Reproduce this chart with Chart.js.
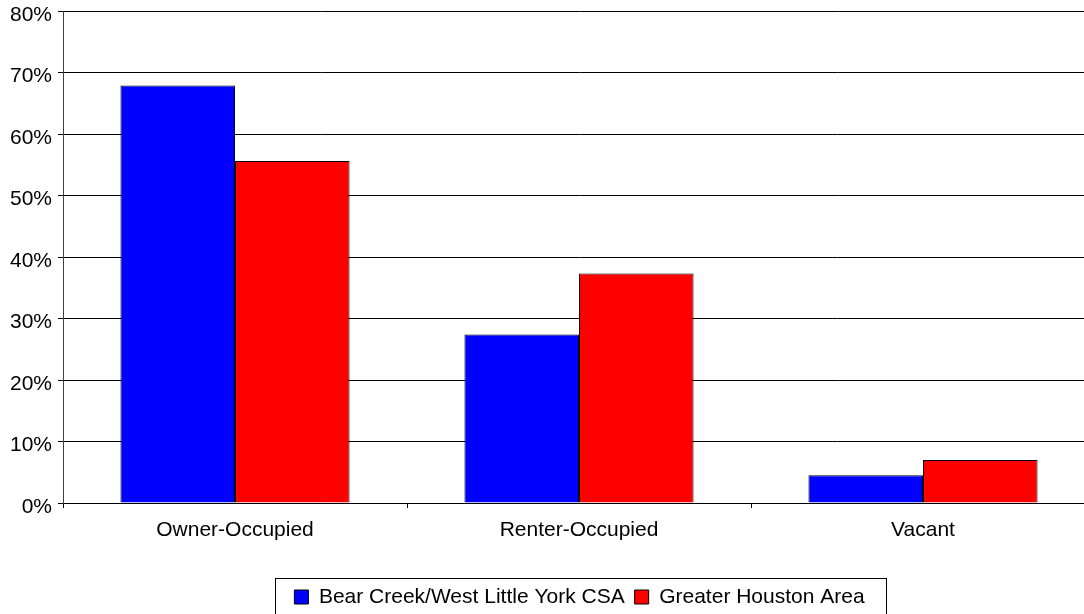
<!DOCTYPE html>
<html>
<head>
<meta charset="utf-8">
<script src="https://cdn.jsdelivr.net/npm/chart.js@4/dist/chart.umd.min.js"></script>
<style>
  html, body { margin: 0; padding: 0; background: #fff; overflow: hidden; }
  #wrap { position: relative; width: 1100px; height: 630px; }
</style>
</head>
<body>
<div id="wrap"><canvas id="housingChart"></canvas></div>
<script>
// Housing occupancy shares (percent)
const categories = ['Owner-Occupied', 'Renter-Occupied', 'Vacant'];
const seriesNames = ['Bear Creek/West Little York CSA', 'Greater Houston Area'];
const bearCreek = [67.9, 27.4, 4.5];
const houston = [55.6, 37.3, 7.0];
const yTicks = [0, 10, 20, 30, 40, 50, 60, 70, 80];

const FONT = "'Liberation Sans', Arial, sans-serif";

// Legend is centred on the visible page, not on the (wider) canvas
const legendShift = {
    id: 'legendShift',
    afterLayout(chart) {
        chart.legend.left += 32;
        chart.legend.right += 32;
    }
};

// Draws the rectangle around the legend items, like the Excel legend frame
const legendFrame = {
    id: 'legendFrame',
    afterDraw(chart) {
        const boxes = chart.legend.legendHitBoxes;
        if (!boxes || !boxes.length) return;
        const first = boxes[0];
        const last = boxes[boxes.length - 1];
        const ctx = chart.ctx;
        const left = first.left - 19;
        const right = last.left + last.width + 22;
        const top = first.top - 9;
        ctx.save();
        ctx.strokeStyle = '#000';
        ctx.lineWidth = 1;
        ctx.strokeRect(Math.round(left) + 0.5, Math.round(top) + 0.5, Math.round(right - left), 60);
        ctx.restore();
    }
};

const ctx = document.getElementById('housingChart').getContext('2d');
new Chart(ctx, {
    type: 'bar',
    data: {
        labels: categories,
        datasets: [
            {
                label: seriesNames[0],
                data: bearCreek,
                backgroundColor: '#0000ff',
                borderColor: '#000',
                borderWidth: 1,
                categoryPercentage: 0.666,
                barPercentage: 1
            },
            {
                label: seriesNames[1],
                data: houston,
                backgroundColor: '#ff0000',
                borderColor: '#000',
                borderWidth: 1,
                categoryPercentage: 0.666,
                barPercentage: 1
            }
        ]
    },
    options: {
        responsive: true,
        maintainAspectRatio: false,
        animation: false,
        layout: {
            padding: { left: 0, right: 5, top: 11, bottom: 12.5 }
        },
        plugins: {
            legend: {
                position: 'bottom',
                labels: {
                    color: '#000',
                    font: { family: FONT, size: 21 },
                    boxWidth: 14,
                    boxHeight: 14,
                    padding: 10,
                    useBorderRadius: false
                }
            },
            tooltip: { enabled: false }
        },
        scales: {
            x: {
                afterFit: (axis) => { axis.height = 73.5; },
                grid: {
                    display: true,
                    drawOnChartArea: false,
                    drawTicks: true,
                    tickLength: 5,
                    tickColor: '#000',
                    offset: true
                },
                border: { display: true, color: '#000', width: 1 },
                ticks: {
                    color: '#000',
                    font: { family: FONT, size: 21 },
                    padding: 10,
                    maxRotation: 0
                }
            },
            y: {
                min: 0,
                max: 80,
                afterFit: (axis) => {
                    axis.width = 63;
                    axis.paddingTop = 0;
                    axis.paddingBottom = 0;
                },
                afterBuildTicks: (axis) => { axis.ticks = yTicks.map(v => ({ value: v })); },
                grid: {
                    color: '#000',
                    lineWidth: 1,
                    drawTicks: true,
                    tickLength: 5,
                    tickColor: '#000'
                },
                border: { display: true, color: '#404040', width: 1 },
                ticks: {
                    color: '#000',
                    font: { family: FONT, size: 21 },
                    padding: 6,
                    labelOffset: 4,
                    callback: (v) => v + '%'
                }
            }
        }
    },
    plugins: [legendShift, legendFrame]
});
</script>
</body>
</html>
